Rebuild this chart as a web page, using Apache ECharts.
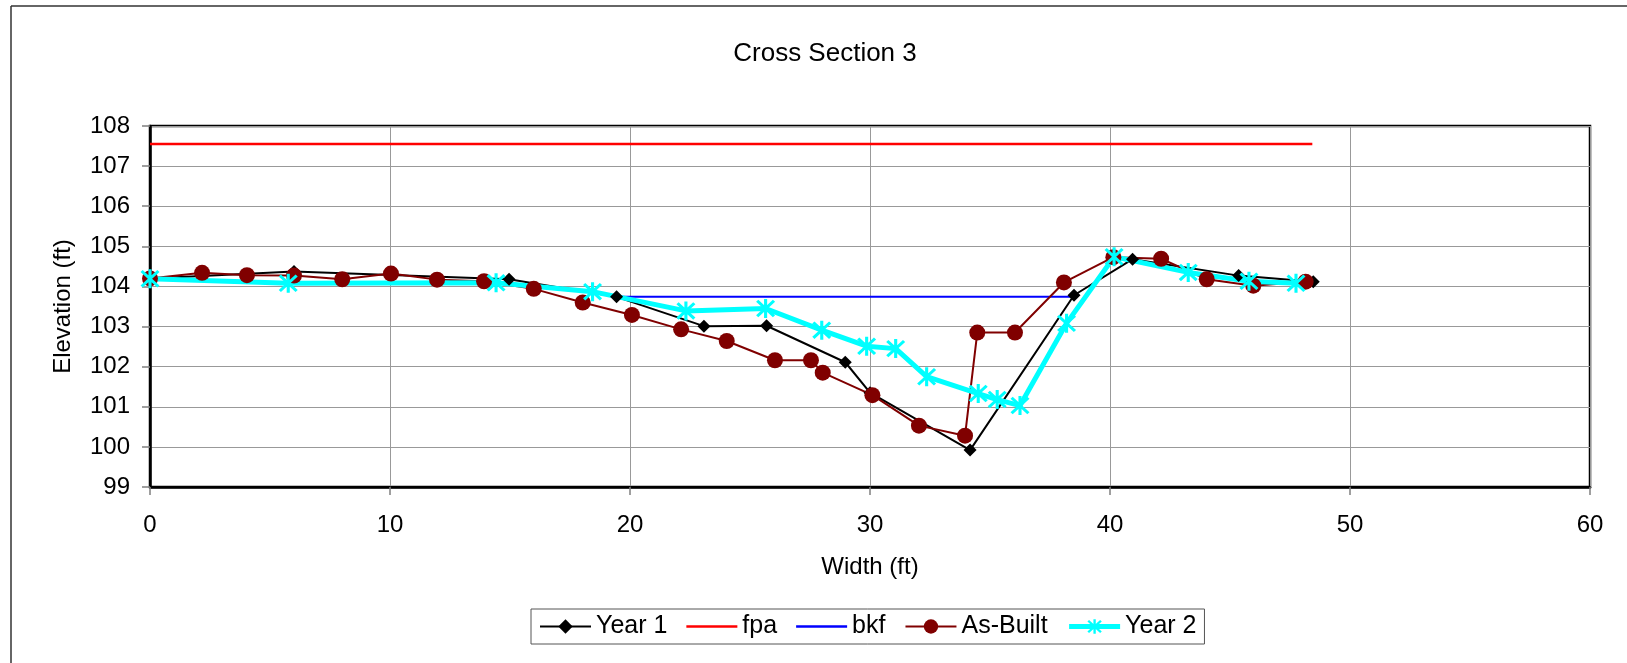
<!DOCTYPE html>
<html>
<head>
<meta charset="utf-8">
<script src="https://cdn.jsdelivr.net/npm/echarts@6/dist/echarts.min.js"></script>
<style>
  html, body { margin: 0; padding: 0; background: #fff; }
  #chart { width: 1627px; height: 663px; }
</style>
</head>
<body>
<div id="chart"></div>
<script>
// values
var year1X = [0, 6.0, 14.96, 19.44, 23.08, 25.69, 28.97, 30.0, 34.17, 38.5, 40.94, 45.36, 48.47];
var year1Y = [104.2, 104.37, 104.18, 103.74, 103.01, 103.02, 102.11, 101.35, 99.92, 103.78, 104.68, 104.27, 104.12];

var fpaX = [0, 48.43];
var fpaY = [107.55, 107.55];

var bkfX = [19.44, 38.45];
var bkfY = [103.74, 103.74];

var asBuiltX = [0, 2.17, 4.04, 6.0, 8.01, 10.04, 11.96, 13.92, 15.99, 18.03, 20.08, 22.13, 24.03,
  26.04, 27.54, 28.03, 30.1, 32.04, 33.96, 34.47, 36.04, 38.08, 40.14, 42.13, 44.03, 45.97, 48.15];
var asBuiltY = [104.2, 104.34, 104.28, 104.27, 104.18, 104.32, 104.17, 104.13, 103.94, 103.6, 103.29, 102.93, 102.64,
  102.16, 102.16, 101.85, 101.29, 100.53, 100.28, 102.85, 102.85, 104.1, 104.73, 104.69, 104.18, 104.02, 104.12];

var year2X = [0, 5.76, 14.42, 18.44, 22.33, 25.65, 27.99, 29.86, 31.07, 32.36, 34.51, 35.3, 36.25,
  38.19, 40.17, 43.26, 45.79, 47.75];
var year2Y = [104.19, 104.08, 104.09, 103.87, 103.39, 103.45, 102.91, 102.51, 102.45, 101.75, 101.33, 101.18, 101.03,
  103.08, 104.74, 104.35, 104.13, 104.08];

var xTicks = [0, 10, 20, 30, 40, 50, 60];
var yTicks = [99, 100, 101, 102, 103, 104, 105, 106, 107, 108];

function pairs(xs, ys) {
  return xs.map(function (x, i) { return [x, ys[i]]; });
}

// asterisk marker (vertical bar + two diagonals), same winding for all bars
var asterisk = 'path://M8.5,0L11.5,0L11.5,20L8.5,20Z' +
  'M2.94,0.82L19.18,17.06L17.06,19.18L0.82,2.94Z' +
  'M17.06,0.82L19.18,2.94L2.94,19.18L0.82,17.06Z';
// plain line icon for the legend
var lineIcon = 'path://M0,0L51,0L51,2.5L0,2.5Z';

var font = 'Liberation Sans, Arial, sans-serif';

var chart = echarts.init(document.getElementById('chart'), null, { renderer: 'canvas' });
chart.setOption({
  animation: false,
  backgroundColor: '#fff',
  title: {
    text: 'Cross Section 3',
    left: 820,
    top: 36,
    textAlign: 'center',
    textStyle: { fontFamily: font, fontSize: 26, fontWeight: 'normal', color: '#000' }
  },
  graphic: [
    { type: 'line', shape: { x1: 11, y1: 6, x2: 11, y2: 663 }, style: { stroke: '#333', lineWidth: 1.5 } },
    { type: 'line', shape: { x1: 11, y1: 6, x2: 1627, y2: 6 }, style: { stroke: '#333', lineWidth: 1.5 } }
  ],
  grid: {
    left: 150,
    top: 126,
    width: 1440,
    height: 361,
    show: true,
    borderColor: '#000',
    borderWidth: 2.5,
    containLabel: false
  },
  legend: {
    left: 531,
    top: 609,
    padding: [5, 8, 5, 8],
    borderColor: '#555',
    borderWidth: 1,
    itemWidth: 51,
    itemHeight: 18,
    itemGap: 19,
    textStyle: { fontFamily: font, fontSize: 25, color: '#000' },
    data: [
      { name: 'Year 1' },
      { name: 'fpa', icon: lineIcon },
      { name: 'bkf', icon: lineIcon },
      { name: 'As-Built' },
      { name: 'Year 2', lineStyle: { width: 5 } }
    ]
  },
  xAxis: {
    type: 'value',
    min: 0,
    max: 60,
    interval: 10,
    name: 'Width (ft)',
    nameLocation: 'middle',
    nameGap: 68,
    nameTextStyle: { fontFamily: font, fontSize: 24, color: '#000' },
    axisLine: { show: true, lineStyle: { color: '#000', width: 2.5 } },
    axisTick: { show: true, length: 8, lineStyle: { color: '#808080', width: 1.5 } },
    axisLabel: {
      margin: 26,
      fontFamily: font,
      fontSize: 24,
      color: '#000',
      formatter: function (v) { return xTicks.indexOf(v) >= 0 ? String(v) : ''; }
    },
    splitLine: { show: true, lineStyle: { color: '#999', width: 1 } }
  },
  yAxis: {
    type: 'value',
    min: 99,
    max: 108,
    interval: 1,
    name: 'Elevation (ft)',
    nameLocation: 'middle',
    nameGap: 75,
    nameTextStyle: { fontFamily: font, fontSize: 24, color: '#000' },
    axisLine: { show: true, lineStyle: { color: '#000', width: 2.5 } },
    axisTick: { show: true, length: 8, lineStyle: { color: '#808080', width: 1.5 } },
    axisLabel: {
      margin: 20,
      fontFamily: font,
      fontSize: 24,
      color: '#000',
      formatter: function (v) { return yTicks.indexOf(v) >= 0 ? String(v) : ''; }
    },
    splitLine: { show: true, lineStyle: { color: '#999', width: 1 } }
  },
  series: [
    {
      name: 'Year 1',
      type: 'line',
      data: pairs(year1X, year1Y),
      symbol: 'diamond',
      symbolSize: 13,
      itemStyle: { color: '#000' },
      lineStyle: { color: '#000', width: 2 }
    },
    {
      name: 'fpa',
      type: 'line',
      data: pairs(fpaX, fpaY),
      symbol: 'none',
      itemStyle: { color: '#ff0000' },
      lineStyle: { color: '#ff0000', width: 2.5 }
    },
    {
      name: 'bkf',
      type: 'line',
      data: pairs(bkfX, bkfY),
      symbol: 'none',
      itemStyle: { color: '#0000ff' },
      lineStyle: { color: '#0000ff', width: 2 }
    },
    {
      name: 'As-Built',
      type: 'line',
      data: pairs(asBuiltX, asBuiltY),
      symbol: 'circle',
      symbolSize: 16,
      itemStyle: { color: '#800000' },
      lineStyle: { color: '#800000', width: 2 }
    },
    {
      name: 'Year 2',
      type: 'line',
      data: pairs(year2X, year2Y),
      symbol: asterisk,
      symbolSize: 19,
      itemStyle: { color: '#00ffff' },
      lineStyle: { color: '#00ffff', width: 5 }
    }
  ]
});
</script>
</body>
</html>
